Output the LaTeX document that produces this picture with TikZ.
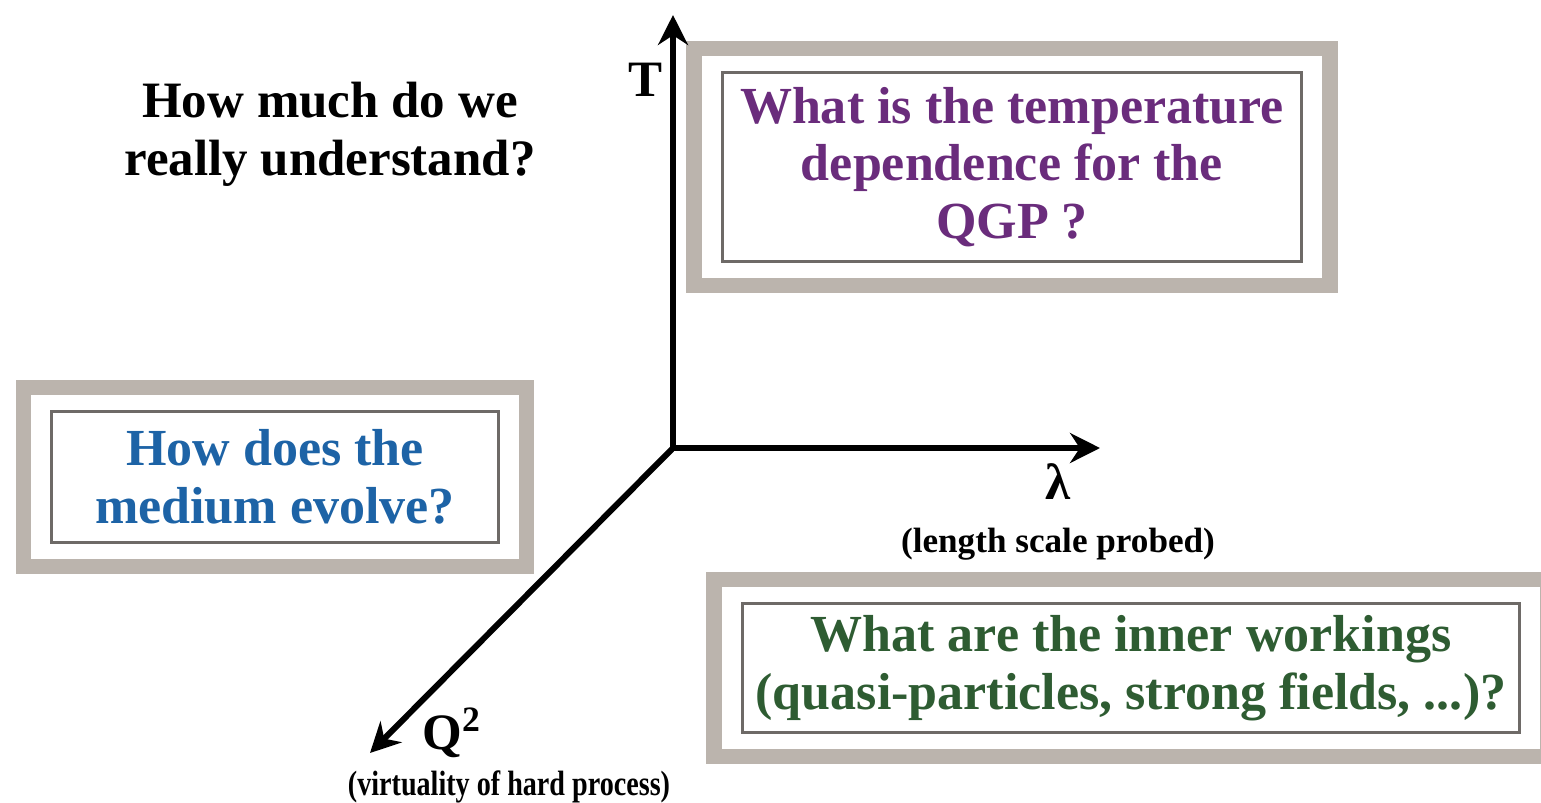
\documentclass[tikz,border=0pt]{standalone}
\usepackage{fontspec}
\setmainfont{Liberation Serif}
\newfontfamily\narrowserif[FakeStretch=0.8]{Liberation Serif}
\usetikzlibrary{arrows.meta,positioning,fit}
\definecolor{qpurple}{HTML}{6A2C7C}
\definecolor{qblue}{HTML}{1D63A6}
\definecolor{qgreen}{HTML}{2E5C32}
\definecolor{frameGrey}{HTML}{BBB4AD}
\definecolor{lineGrey}{HTML}{6E6A67}

\begin{document}
\begin{tikzpicture}[
  x=0.01cm, y=-0.01cm,
  >={Stealth[length=8.5pt,width=8.5pt]},
  axis/.style={->, line width=1.7pt, color=black},
  qBox/.style={draw=lineGrey, line width=0.8pt, align=center, inner sep=0pt, font=\fontsize{14.8}{16.4}\selectfont\bfseries},
  frame/.style={draw=frameGrey, line width=4.4pt, inner xsep=0.27cm, inner ysep=0.225cm},
  lbl/.style={font=\fontsize{14.5}{16.4}\selectfont\bfseries, inner sep=0pt},
  note/.style={font=\fontsize{10}{12}\selectfont\bfseries, inner sep=0pt, anchor=base},
]
\useasboundingbox (0,0) rectangle (1541,802);

% question boxes
\node[qBox, text=qpurple, minimum width=5.79cm, minimum height=1.89cm] (tempQ) at (1012,167) {What is the temperature\\dependence for the\\QGP ?};
\node[frame, fit=(tempQ)] (tempFrame) {};
\node[qBox, text=qblue, minimum width=4.46cm, minimum height=1.31cm] (evolveQ) at (275,477) {How does the\\medium evolve?};
\node[frame, fit=(evolveQ)] (evolveFrame) {};
\node[qBox, text=qgreen, minimum width=7.77cm, minimum height=1.29cm] (innerQ) at (1131,668) {What are the inner workings\\(quasi-particles, strong fields, ...)?};
\node[frame, fit=(innerQ)] (innerFrame) {};

\node[lbl, align=center] (howMuch) at (330,134) {How much do we\\really understand?};

% axes
\coordinate (origin) at (673,448);
\coordinate (tEnd) at (673,15);
\coordinate (lambdaEnd) at (1100,448);
\coordinate (qEnd) at (370,753);
\draw[axis] (origin) -- (tEnd);
\draw[axis] (origin) -- (lambdaEnd);
\draw[axis] (origin) -- (qEnd);

\node[lbl] (tLbl) at (646,80) {T};
\node[lbl] (lambdaLbl) at (1058,482) {λ};
\node[note] (lambdaNote) at (1058,552) {(length scale probed)};
\node[lbl] (qLbl) at (452,733) {Q\textsuperscript{2}};
\node[note, font=\narrowserif\fontsize{10}{12}\selectfont\bfseries] (qNote) at (509,795) {(virtuality of hard process)};

\end{tikzpicture}
\end{document}
